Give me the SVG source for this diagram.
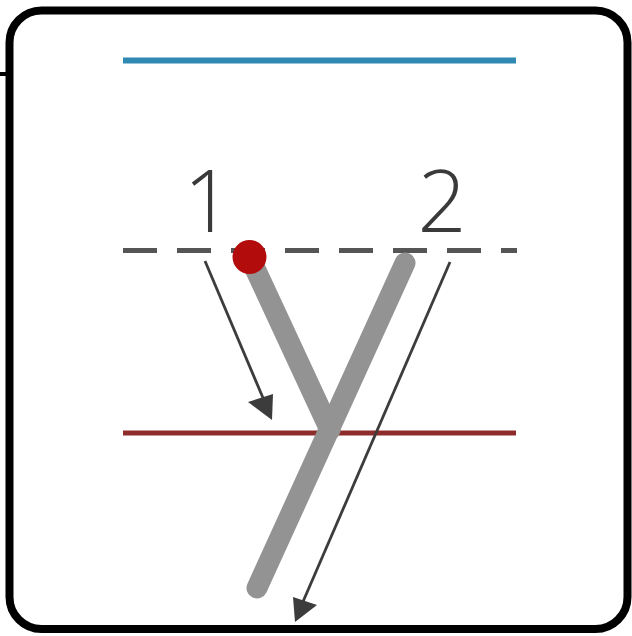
<svg xmlns="http://www.w3.org/2000/svg" width="632" height="636" viewBox="0 0 632 636">
  <style>
    .guide { fill: none; stroke-linecap: butt; }
    .stroke { fill: none; stroke: #939393; stroke-width: 21; stroke-linecap: round; }
    .arrow { fill: none; stroke: #3c3c3c; stroke-width: 2.8; }
    .head { fill: #3c3c3c; }
    .num { font-family: "Open Sans", "Liberation Sans", sans-serif; font-weight: 300; font-size: 86px; fill: #3a3a3a; text-anchor: middle; }
  </style>
  <rect width="632" height="636" fill="#ffffff"/>
  <g id="frame">
    <rect x="9.5" y="10.5" width="618" height="618.5" rx="32" ry="32" fill="#ffffff" stroke="#000000" stroke-width="8"/>
    <line x1="0" y1="74" x2="8" y2="74" stroke="#000000" stroke-width="4"/>
  </g>
  <g id="guides">
    <line class="guide" x1="123" y1="60.5" x2="516" y2="60.5" stroke="#2f89b3" stroke-width="6"/>
    <line class="guide" x1="123" y1="250.5" x2="517" y2="250.5" stroke="#555555" stroke-width="5" stroke-dasharray="34 20"/>
    <line class="guide" x1="123" y1="433" x2="516" y2="433" stroke="#8e2b2b" stroke-width="5"/>
  </g>
  <g id="letter">
    <line class="stroke" x1="252" y1="262" x2="330" y2="430"/>
    <line class="stroke" x1="405" y1="263" x2="257" y2="588"/>
    <circle id="start-dot" cx="249.5" cy="257" r="17" fill="#b30c0c"/>
  </g>
  <g id="labels">
    <text class="num" x="208" y="232">1</text>
    <text class="num" x="442" y="232">2</text>
  </g>
  <g id="connectors">
    <line class="arrow" x1="205" y1="261" x2="266" y2="405"/>
    <polygon class="head" points="272,420 248,402 273,394"/>
    <line class="arrow" x1="450" y1="262" x2="302" y2="604"/>
    <polygon class="head" points="295,622 293,597 317,605"/>
  </g>
</svg>
